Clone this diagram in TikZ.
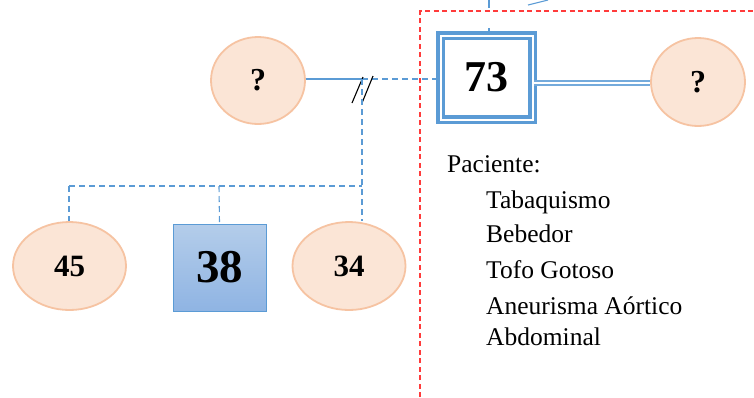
\documentclass[tikz,border=0pt]{standalone}
\usepackage{fontspec}
\setmainfont{Liberation Serif}
\usetikzlibrary{shapes.geometric}
\definecolor{linkblue}{HTML}{5B9BD5}
\definecolor{peachfill}{HTML}{FBE5D6}
\definecolor{peachline}{HTML}{F6C3A2}
\definecolor{boxtop}{HTML}{B4CDEA}
\definecolor{boxbot}{HTML}{8FB4E3}
\definecolor{framered}{HTML}{FF3B3B}
\begin{document}
\begin{tikzpicture}[x=1pt,y=-1pt,
  person/.style={ellipse, draw=peachline, fill=peachfill, line width=1.8pt,
    inner sep=0pt, font=\bfseries\fontsize{32}{32}\selectfont},
  link/.style={draw=linkblue, line width=1.1pt},
  dlink/.style={link, dash pattern=on 6pt off 4pt},
  note/.style={anchor=base west, inner sep=0pt, font=\fontsize{25.5}{30}\selectfont}]
\useasboundingbox (0,0) rectangle (754,397);

% family frame around the index patient
\draw[framered, line width=1.2pt, dash pattern=on 5pt off 3.5pt]
  (420,397) -- (420,11) -- (754,11);

% parents generation
\node[person, minimum width=94pt, minimum height=87pt] (lq) at (258,80.5) {?};
\node[draw=linkblue, fill=white, line width=3.5pt, double=white, double distance=2pt,
  minimum width=92pt, minimum height=84pt, inner sep=0pt,
  font=\bfseries\fontsize{44}{44}\selectfont] (p73) at (486.5,77.5) {73};
\node[person, minimum width=94pt, minimum height=88pt] (rq) at (698,82) {?};

% children generation
\node[person, minimum width=113pt, minimum height=88pt,
  font=\bfseries\fontsize{31}{31}\selectfont] (p45) at (69.5,266) {45};
\node[draw=linkblue, line width=1pt, top color=boxtop, bottom color=boxbot,
  minimum width=93pt, minimum height=87pt, inner sep=0pt,
  font=\bfseries\fontsize{47}{47}\selectfont] (p38) at (219.5,267.5) {38};
\node[person, minimum width=113pt, minimum height=88pt,
  font=\bfseries\fontsize{31}{31}\selectfont] (p34) at (349,266) {34};

% line coming in from above
\coordinate (topa) at (489,0);
\draw[link, dash pattern=on 8pt off 20pt] (topa) -- (topa |- p73.north);
\draw[link] (528,5) -- (548,0);

% current partnership (double line)
\draw[draw=linkblue!85, line width=1.4pt, double=white, double distance=2.6pt]
  (p73.east |- 0,83) -- (rq.west |- 0,83);

% separated partnership with the left parent
\coordinate (m) at (362,79);
\draw[link] (lq.east |- m) -- (m);
\draw[dlink] (m) -- (m -| p73.west);
\draw[black, line width=1.1pt] (352,103) -- (363,77);
\draw[black, line width=1.1pt] (362,103) -- (373,76);

% descent line and sibship bar
\coordinate (sl) at (69,186);
\coordinate (sr) at (362,186);
\draw[dlink] (m) -- (m |- p34.north);
\draw[dlink] (sl) -- (sr);
\draw[dlink] (sl) -- (sl |- p45.north);
\draw[dlink] (219,186) -- (p38.north);

% patient notes
\node[note] (n0) at (447,172.5) {Paciente:};
\node[note] (n1) at (486,208) {Tabaquismo};
\node[note] (n2) at (486,242.5) {Bebedor};
\node[note] (n3) at (486,278) {Tofo Gotoso};
\node[note] (n4) at (486,314) {Aneurisma Aórtico};
\node[note] (n5) at (486,345) {Abdominal};
\end{tikzpicture}
\end{document}
